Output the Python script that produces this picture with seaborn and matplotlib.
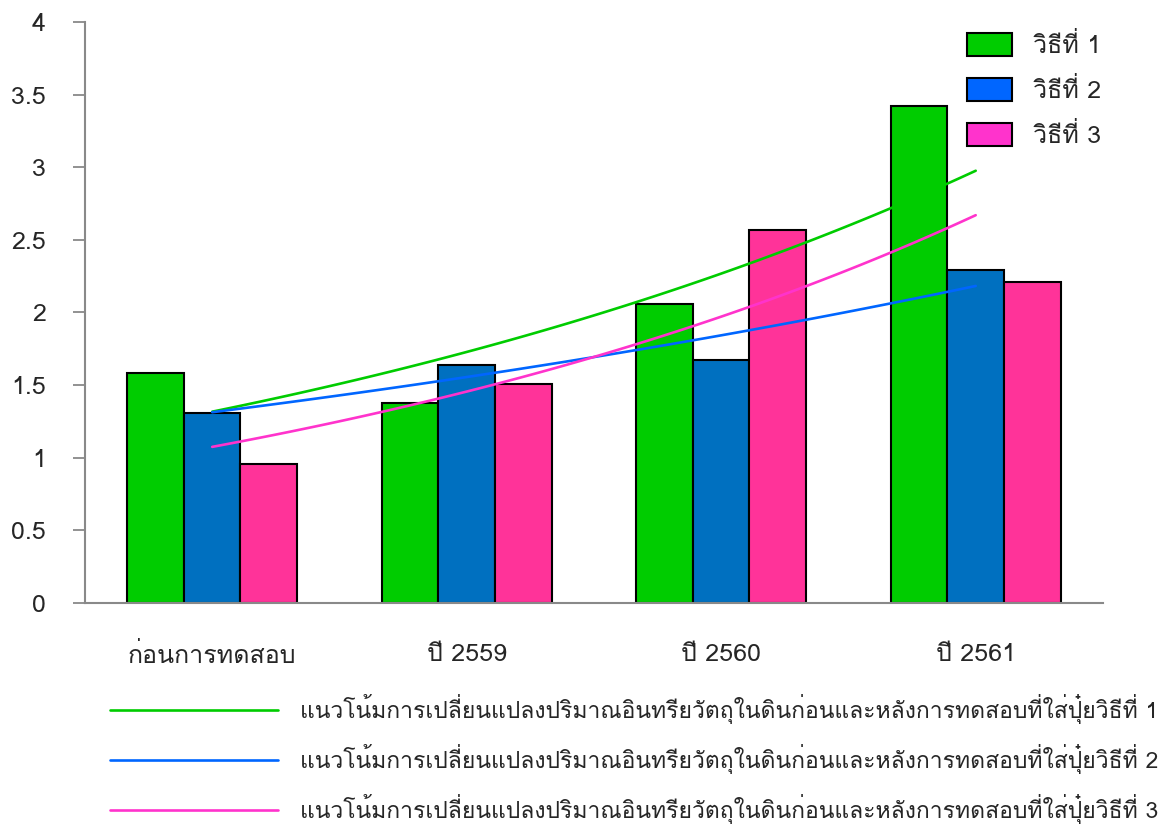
import numpy as np
import pandas as pd
import matplotlib
matplotlib.use("Agg")
import matplotlib.pyplot as plt
from matplotlib.patches import Patch
from matplotlib.lines import Line2D
import seaborn as sns

# ---------------- data ----------------
categories = ["ก่อนการทดสอบ", "ปี 2559", "ปี 2560", "ปี 2561"]
methods = ["วิธีที่ 1", "วิธีที่ 2", "วิธีที่ 3"]
method1 = [1.58, 1.38, 2.06, 3.42]
method2 = [1.31, 1.64, 1.67, 2.29]
method3 = [0.96, 1.51, 2.57, 2.21]
trend_labels = [
    "แนวโน้มการเปลี่ยนแปลงปริมาณอินทรียวัตถุในดินก่อนและหลังการทดสอบที่ใส่ปุ๋ยวิธีที่ 1",
    "แนวโน้มการเปลี่ยนแปลงปริมาณอินทรียวัตถุในดินก่อนและหลังการทดสอบที่ใส่ปุ๋ยวิธีที่ 2",
    "แนวโน้มการเปลี่ยนแปลงปริมาณอินทรียวัตถุในดินก่อนและหลังการทดสอบที่ใส่ปุ๋ยวิธีที่ 3",
]
yticks = [0, 0.5, 1, 1.5, 2, 2.5, 3, 3.5, 4]
ytick_labels = ["0", "0.5", "1", "1.5", "2", "2.5", "3", "3.5", "4"]

bar_colors = ["#00CC00", "#0070C0", "#FF3399"]
line_colors = ["#00CC00", "#0066FF", "#FF33CC"]

df = pd.DataFrame({
    "category": categories * 3,
    "method": [m for m in methods for _ in categories],
    "value": method1 + method2 + method3,
})

# ---------------- fonts ----------------
sns.set_theme(style="white")
plt.rcParams["font.family"] = ["Loma", "Noto Sans Thai", "DejaVu Sans"]
FS = 18

# ---------------- figure ----------------
fig = plt.figure(figsize=(11.7, 8.27), dpi=100)
ax = fig.add_axes([0.0726, 0.2709, 0.8701, 0.7025])

sns.barplot(data=df, x="category", y="value", hue="method", order=categories,
            hue_order=methods, palette=bar_colors, width=0.667, gap=0,
            edgecolor="black", linewidth=1.5, saturation=1, legend=False, ax=ax)

# exponential trend lines fitted to each series
xs = np.linspace(0, 3, 100)
for vals, col in zip([method1, method2, method3], line_colors):
    b, a = np.polyfit(np.arange(len(vals)), np.log(vals), 1)
    ax.plot(xs, np.exp(a + b * xs), color=col, lw=1.9)

ax.set_xlim(-0.5, 3.5)
ax.set_ylim(0, 4)
ax.set_yticks(yticks)
ax.set_yticklabels(ytick_labels, fontsize=FS)
ax.set_xticks(range(len(categories)))
ax.set_xticklabels(categories, fontsize=FS)
ax.set_xticks([-0.5, 0.5, 1.5, 2.5, 3.5], minor=True)
ax.tick_params(axis="x", which="major", length=0, pad=29)
ax.tick_params(axis="x", which="minor", length=8, width=1.3, color="#898989", direction="out")
ax.tick_params(axis="y", which="major", length=9, width=1.3, color="#898989", direction="out", pad=19, left=True)
ax.set_xlabel("")
ax.set_ylabel("")
for s in ["top", "right"]:
    ax.spines[s].set_visible(False)
for s in ["left", "bottom"]:
    ax.spines[s].set_color("#898989")
    ax.spines[s].set_linewidth(1.5)

# top-right legend for bars
handles = [Patch(facecolor=c, edgecolor="black", linewidth=1.5) for c in line_colors]
ax.legend(handles, methods, loc="upper right", bbox_to_anchor=(1.0206, 1.02), frameon=False,
          fontsize=18, handlelength=1.8, handleheight=1.0, handletextpad=0.84, labelspacing=0.8)

# bottom legend for trend lines
lh = [Line2D([0], [0], color=c, lw=1.9) for c in line_colors]
fig.legend(lh, trend_labels, loc="lower left", bbox_to_anchor=(0.0764, -0.021), frameon=False,
           fontsize=16.5, handlelength=7.33, handletextpad=0.96, labelspacing=0.87)

fig.savefig("out.png", dpi=100)
